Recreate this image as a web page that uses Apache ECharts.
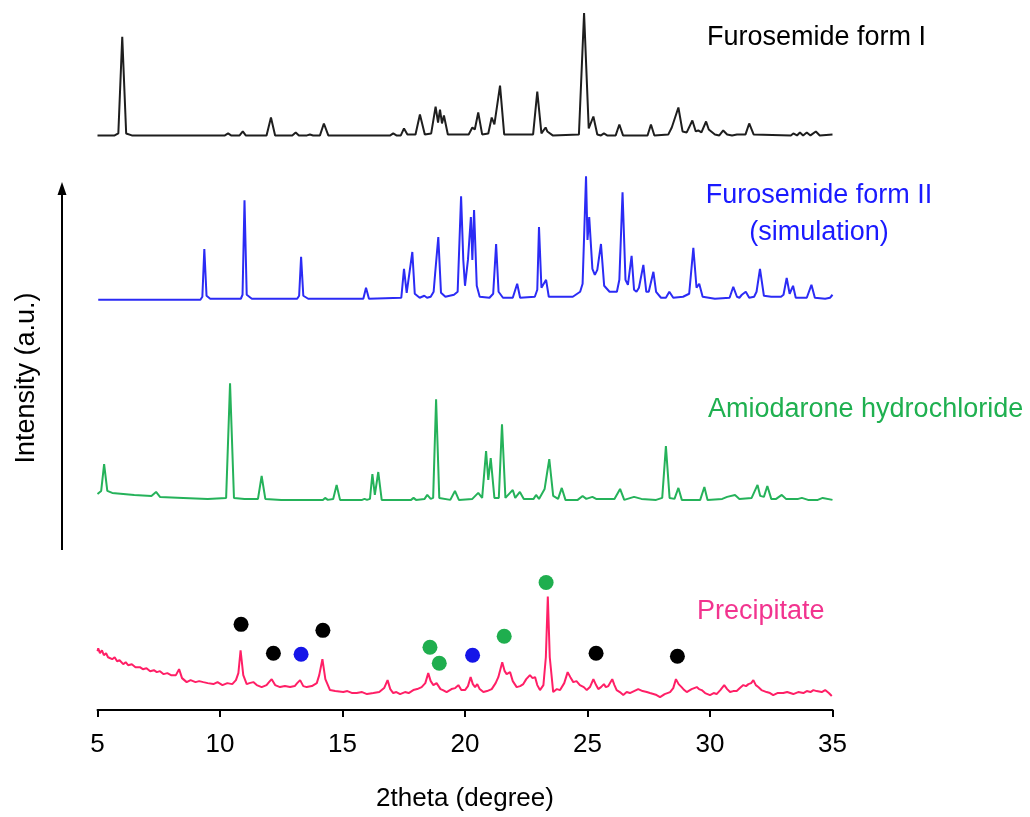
<!DOCTYPE html>
<html lang="en" style="height: 100%">
<head>
    <meta charset="utf-8">
    <script type="text/javascript" src="https://cdn.jsdelivr.net/npm/echarts@6/dist/echarts.min.js"></script>
</head>
<body style="height: 100%; margin: 0; background: #fff">
<div id="container" style="width: 1030px; height: 817px"></div>
<script type="text/javascript">
    // 2theta ticks
    var xTicks = [5, 10, 15, 20, 25, 30, 35];

    // Furosemide form I  [2theta, intensity a.u.]
    var formI = [
        [5.0,1],[5.7,1],[5.85,3],[6.01,100],[6.17,3],[6.4,1],
        [10.2,1],[10.33,3],[10.45,1],[10.8,1],[10.93,5],[11.05,1],
        [11.9,1],[12.08,19],[12.25,1],
        [12.95,1],[13.09,4],[13.22,1],[13.55,1],[13.67,2],[13.8,1],
        [14.08,1],[14.24,13],[14.42,1],
        [16.95,1],[17.07,3],[17.2,1],[17.38,1],[17.51,8],[17.65,2],
        [17.98,2],[18.16,22],[18.36,2],[18.62,3],[18.8,30],[18.9,14],[18.98,27],[19.06,13],[19.14,21],[19.3,2],
        [20.15,2],[20.3,9],[20.4,7],[20.54,24],[20.7,2],
        [20.95,3],[21.09,19],[21.2,12],[21.43,51],[21.6,2],
        [22.78,2],[22.95,45],[23.12,3],[23.29,9],[23.36,5],[23.44,7],[23.58,1],
        [24.65,2],[24.86,124],[25.05,8],[25.24,20],[25.4,2],[25.55,1],[25.67,3],[25.8,1],
        [26.15,1],[26.3,12],[26.45,1],
        [27.45,1],[27.59,12],[27.73,1],
        [28.3,2],[28.44,9],[28.52,8],[28.71,29],[28.88,5],[29.05,4],[29.28,16],[29.42,5],[29.52,6],[29.65,4],
        [29.84,15],[29.95,7],[30.03,7],[30.2,2],[30.38,1],[30.54,6],[30.7,2],[30.9,1],[31.1,2],
        [31.45,2],[31.6,13],[31.78,2],[33.3,1],[33.4,3],[33.55,1],[33.67,4],[33.8,1],[33.95,4],[34.1,1],
        [34.32,5],[34.48,1],[35.0,2]
    ];

    // Furosemide form II (simulation)
    var formII = [
        [5.03,0],[9.2,0],[9.28,3],[9.36,51],[9.45,4],[9.6,1],
        [10.85,1],[10.92,5],[11.0,100],[11.09,5],[11.3,1],
        [13.15,1],[13.23,4],[13.31,43],[13.4,4],[13.6,1],
        [15.85,1],[15.96,12],[16.08,1],
        [17.4,2],[17.51,31],[17.62,7],[17.7,9],[17.85,48],[17.95,6],[18.15,2],[18.34,4],[18.45,2],[18.6,3],
        [18.72,8],[18.78,26],[18.91,63],[19.02,7],[19.2,3],[19.55,5],[19.7,8],[19.84,104],[19.93,40],[20.0,14],
        [20.12,40],[20.24,83],[20.3,40],[20.37,90],[20.48,14],[20.6,3],[21.0,2],[21.15,6],[21.27,56],[21.37,8],
        [21.45,6],[21.55,2],[21.95,2],[22.13,16],[22.25,2],[22.85,3],[22.95,10],[23.02,73],[23.12,12],[23.2,10],
        [23.31,20],[23.42,3],[24.4,3],[24.7,8],[24.8,16],[24.94,124],[25.0,60],[25.07,83],[25.2,31],[25.3,25],
        [25.4,30],[25.55,56],[25.68,14],[25.9,8],[26.2,8],[26.3,20],[26.43,108],[26.55,20],[26.65,15],[26.8,44],
        [26.9,10],[27.0,8],[27.1,12],[27.28,35],[27.4,8],[27.5,8],[27.69,28],[27.8,8],[28.0,2],[28.2,2],
        [28.34,8],[28.5,2],[28.9,3],[29.15,6],[29.32,52],[29.45,12],[29.56,16],[29.7,3],[30.2,1],[30.8,2],
        [30.95,13],[31.1,3],[31.2,2],[31.3,5],[31.38,3],[31.46,8],[31.6,2],[31.8,3],[31.9,8],[32.04,31],
        [32.2,4],[32.5,3],[32.9,3],[33.0,5],[33.13,22],[33.25,6],[33.39,14],[33.5,2],[33.95,2],[34.14,15],
        [34.28,2],[34.7,1],[34.9,2],[35.0,5]
    ];

    // Amiodarone hydrochloride
    var amio = [
        [5.0,7],[5.15,10],[5.27,37],[5.4,10],[5.6,8],[6.5,6],[7.2,5],[7.39,9],[7.55,4],[8.5,3],[9.5,2],
        [10.25,3],[10.41,118],[10.57,3],[11.0,2],[11.55,2],[11.7,25],[11.85,2],[12.5,1],[13.2,1],[14.2,1],
        [14.29,3],[14.4,1],[14.62,2],[14.76,16],[14.9,1],[15.8,1],[15.9,2],[16.0,1],[16.12,2],[16.22,27],
        [16.32,6],[16.46,29],[16.6,1],[17.8,1],[17.9,3],[18.0,1],[18.35,2],[18.46,6],[18.6,2],[18.7,3],
        [18.82,102],[18.95,3],[19.4,1],[19.59,10],[19.75,1],[20.3,2],[20.54,8],[20.7,3],[20.86,50],[20.95,21],
        [21.05,43],[21.2,3],[21.38,3],[21.51,77],[21.65,3],[21.95,11],[22.05,3],[22.24,9],[22.4,2],[22.8,2],
        [22.9,6],[23.02,2],[23.25,12],[23.35,28],[23.44,42],[23.6,5],[23.8,2],[23.95,13],[24.1,1],[24.6,1],
        [24.8,5],[24.95,2],[25.2,4],[25.35,2],[26.1,2],[26.33,12],[26.5,1],[26.9,4],[27.2,2],[27.8,1],
        [28.05,3],[28.2,55],[28.35,3],[28.55,2],[28.71,13],[28.85,1],[29.6,1],[29.77,14],[29.9,1],[30.5,2],
        [30.7,4],[31.02,6],[31.2,2],[31.7,3],[31.94,16],[32.05,5],[32.2,4],[32.34,15],[32.5,2],[32.7,2],
        [32.93,6],[33.1,2],[33.6,2],[33.75,3],[34.0,1],[34.4,1],[34.6,3],[35.0,1]
    ];

    // Precipitate
    var precip = [
        [5.0,46],[5.03,49],[5.1,44],[5.18,47],[5.26,42],[5.35,44],[5.43,40],[5.51,41],[5.6,38],[5.7,40],
        [5.8,36],[5.9,37],[6.05,33],[6.15,35],[6.25,32],[6.4,33],[6.55,30],[6.73,30],[6.85,28],[7.0,29],
        [7.15,26],[7.3,27],[7.42,25],[7.55,26],[7.7,23],[7.85,24],[8.0,22],[8.09,22],[8.2,22],[8.33,28],
        [8.45,19],[8.64,15],[8.8,17],[9.0,15],[9.15,16],[9.32,15],[9.5,14],[9.73,13],[9.9,15],[10.1,12],
        [10.3,14],[10.5,13],[10.65,17],[10.75,24],[10.84,47],[10.95,22],[11.09,13],[11.2,14],[11.36,15],[11.5,12],
        [11.7,10],[11.9,12],[12.0,15],[12.11,18],[12.25,12],[12.45,10],[12.65,11],[12.86,10],[13.05,11],[13.15,14],
        [13.27,17],[13.4,11],[13.54,10],[13.75,11],[13.95,14],[14.05,22],[14.18,38],[14.3,18],[14.49,7],[14.7,6],
        [15.03,5],[15.2,6],[15.4,4],[15.58,4],[15.8,5],[16.0,3],[16.26,4],[16.5,5],[16.7,9],[16.84,17],
        [16.95,8],[17.07,4],[17.2,5],[17.35,3],[17.55,5],[17.7,4],[17.89,7],[18.05,8],[18.23,10],[18.38,14],
        [18.5,24],[18.6,16],[18.71,12],[18.84,14],[19.0,8],[19.1,7],[19.25,5],[19.45,8],[19.6,9],[19.73,12],
        [19.85,7],[20.0,7],[20.12,11],[20.23,20],[20.32,13],[20.41,10],[20.5,13],[20.6,8],[20.75,5],[20.9,6],
        [21.09,8],[21.25,14],[21.36,20],[21.52,35],[21.62,26],[21.7,23],[21.84,25],[21.95,16],[22.11,10],[22.25,11],
        [22.38,13],[22.5,18],[22.65,22],[22.76,19],[22.86,20],[22.95,12],[23.06,7],[23.2,12],[23.3,40],[23.38,101],
        [23.46,40],[23.6,5],[23.75,8],[23.88,7],[24.05,14],[24.19,25],[24.3,20],[24.42,15],[24.55,16],[24.69,12],
        [24.85,10],[24.97,7],[25.1,10],[25.24,18],[25.35,12],[25.44,8],[25.55,10],[25.67,13],[25.75,10],[25.85,11],
        [26.01,18],[26.1,12],[26.19,7],[26.32,5],[26.46,2],[26.6,5],[26.73,4],[26.9,6],[27.07,8],[27.25,6],
        [27.42,5],[27.55,4],[27.69,3],[27.82,2],[27.96,0],[28.15,3],[28.37,5],[28.5,9],[28.61,18],[28.72,13],
        [28.84,10],[28.95,7],[29.05,5],[29.25,8],[29.46,10],[29.55,8],[29.66,7],[29.8,4],[30.0,2],[30.15,4],
        [30.27,3],[30.42,7],[30.58,12],[30.7,8],[30.82,5],[30.95,6],[31.09,6],[31.22,9],[31.36,12],[31.47,11],
        [31.57,13],[31.68,14],[31.77,17],[31.87,12],[31.97,10],[32.1,7],[32.31,5],[32.45,4],[32.58,2],[32.75,4],
        [32.99,4],[33.15,5],[33.4,3],[33.6,5],[33.81,4],[33.95,6],[34.1,5],[34.22,7],[34.35,6],[34.56,5],
        [34.7,7],[34.85,4],[34.97,1]
    ];

    // phase markers over the precipitate pattern
    var dotsFormI = [[10.86,73],[12.18,44],[14.2,67],[25.35,44],[28.67,41]];
    var dotsFormII = [[13.31,43],[20.31,42]];
    var dotsAmio = [[18.57,50],[18.95,34],[21.6,61],[23.31,115]];

    // vertical stacking of the four patterns
    var offsets = {formI: 576, formII: 412, amio: 210, precip: 13};

    function shift(arr, off) {
        return arr.map(function (p) { return [p[0], p[1] + off]; });
    }

    var font = '"Liberation Sans", Arial, sans-serif';

    function lineSeries(name, arr, off, color) {
        return {
            name: name,
            type: 'line',
            data: shift(arr, off),
            showSymbol: false,
            lineStyle: {color: color, width: 2},
            animation: false
        };
    }

    function dotSeries(arr, color) {
        return {
            type: 'scatter',
            data: shift(arr, offsets.precip),
            symbolSize: 15,
            itemStyle: {color: color, opacity: 1},
            z: 5,
            animation: false
        };
    }

    function label(text, x, y, color, size) {
        return {
            type: 'text', x: x, y: y,
            style: {text: text, fontFamily: font, fontSize: size, fill: color,
                align: 'left', verticalAlign: 'middle'}
        };
    }

    var dom = document.getElementById('container');
    var myChart = echarts.init(dom, null, {renderer: 'canvas'});

    var option = {
        backgroundColor: '#ffffff',
        grid: {left: 97.5, right: 197.5, top: 0, bottom: 104},
        xAxis: {
            type: 'value',
            min: xTicks[0],
            max: xTicks[xTicks.length - 1],
            interval: 5,
            name: '2theta (degree)',
            nameLocation: 'middle',
            nameGap: 76,
            nameTextStyle: {fontFamily: font, fontSize: 26, color: '#000'},
            axisLine: {lineStyle: {color: '#000', width: 2}},
            axisTick: {length: 7, lineStyle: {color: '#000', width: 2}},
            axisLabel: {fontFamily: font, fontSize: 26, color: '#000', margin: 22},
            splitLine: {show: false}
        },
        yAxis: {
            type: 'value',
            min: 0,
            max: 713,
            show: false
        },
        series: [
            lineSeries('Furosemide form I', formI, offsets.formI, '#1e1e1e'),
            lineSeries('Furosemide form II', formII, offsets.formII, '#2b2bf5'),
            lineSeries('Amiodarone hydrochloride', amio, offsets.amio, '#25b25a'),
            lineSeries('Precipitate', precip, offsets.precip, '#ff1f66'),
            dotSeries(dotsFormI, '#000000'),
            dotSeries(dotsFormII, '#1515e8'),
            dotSeries(dotsAmio, '#1fae4e')
        ],
        graphic: [
            label('Furosemide form I', 707, 38, '#000', 27),
            {type: 'text', x: 819, y: 196,
                style: {text: 'Furosemide form II', fontFamily: font, fontSize: 27, fill: '#1a1aff',
                    align: 'center', verticalAlign: 'middle'}},
            {type: 'text', x: 819, y: 233,
                style: {text: '(simulation)', fontFamily: font, fontSize: 27, fill: '#1a1aff',
                    align: 'center', verticalAlign: 'middle'}},
            label('Amiodarone hydrochloride', 708, 410, '#1fb050', 27),
            label('Precipitate', 697, 612, '#f2348f', 27),
            {type: 'text', x: 27, y: 378, rotation: Math.PI / 2,
                style: {text: 'Intensity (a.u.)', fontFamily: font, fontSize: 27, fill: '#000',
                    align: 'center', verticalAlign: 'middle'}},
            {type: 'line', shape: {x1: 62, y1: 550, x2: 62, y2: 192},
                style: {stroke: '#000', lineWidth: 2}},
            {type: 'polygon', shape: {points: [[62, 182], [57.5, 195], [66.5, 195]]},
                style: {fill: '#000'}}
        ]
    };

    if (option && typeof option === 'object') {
        myChart.setOption(option);
    }

    window.addEventListener('resize', myChart.resize);
</script>
</body>
</html>
